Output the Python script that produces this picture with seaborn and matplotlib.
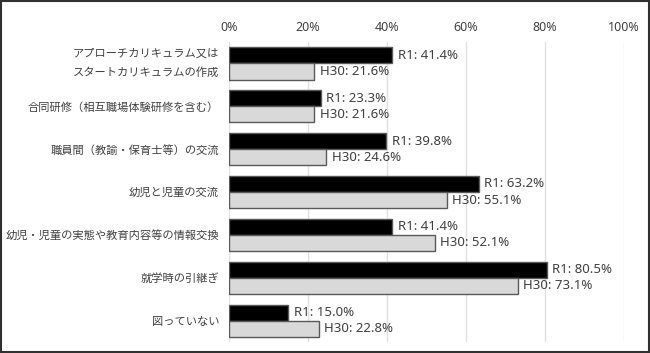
import pandas as pd
import numpy as np
import matplotlib.pyplot as plt
import matplotlib.transforms as mtrans
import seaborn as sns
from matplotlib.ticker import PercentFormatter

categories = ['アプローチカリキュラム又は\nスタートカリキュラムの作成',
              '合同研修（相互職場体験研修を含む）',
              '職員間（教諭・保育士等）の交流',
              '幼児と児童の交流',
              '幼児・児童の実態や教育内容等の情報交換',
              '就学時の引継ぎ',
              '図っていない']
r1 = [41.4, 23.3, 39.8, 63.2, 41.4, 80.5, 15.0]
h30 = [21.6, 21.6, 24.6, 55.1, 52.1, 73.1, 22.8]
series = ['R1', 'H30']

df = pd.DataFrame({'cat': categories * 2,
                   'val': r1 + h30,
                   'year': ['R1'] * len(r1) + ['H30'] * len(h30)})

sns.set_style('white')
plt.rcParams['font.family'] = ['Noto Sans CJK JP', 'DejaVu Sans']

fig = plt.figure(figsize=(6.5, 3.53), dpi=100)
ax = fig.add_axes([0.352, 0.031, 0.608, 0.85])

sns.barplot(data=df, y='cat', x='val', hue='year', hue_order=series,
            palette={'R1': '#000000', 'H30': '#d9d9d9'}, orient='h',
            width=0.75, edgecolor='#595959', linewidth=1, legend=False, ax=ax)

for cont, s in zip(ax.containers, series):
    vals = r1 if s == 'R1' else h30
    ax.bar_label(cont, labels=[f'{s}: {v:.1f}%' for v in vals], padding=4,
                 fontsize=9.5, color='#404040', family='Noto Sans')

ax.set_xlim(0, 100)
ax.set_xticks(np.arange(0, 101, 20))
ax.xaxis.set_major_formatter(PercentFormatter(decimals=0))
ax.xaxis.tick_top()
ax.tick_params(axis='x', length=0, labelsize=9, labelcolor='#404040', pad=6)
ax.tick_params(axis='y', length=0, labelsize=8.1, labelcolor='#404040', pad=7)
for t in ax.get_xticklabels():
    t.set_family('Noto Sans')
ylabs = ax.get_yticklabels()
for t in ylabs:
    t.set_linespacing(2.0)
# nudge the two-line label up a little
ylabs[0].set_transform(ylabs[0].get_transform() +
                       mtrans.ScaledTranslation(0, 4 / 72, fig.dpi_scale_trans))
ax.grid(axis='x', color='#e0e0e0', linewidth=1)
ax.set_axisbelow(True)
ax.set_xlabel('')
ax.set_ylabel('')
for sp in ax.spines.values():
    sp.set_visible(False)

fig.patches.append(plt.Rectangle((0.002, 0.003), 0.996, 0.994, transform=fig.transFigure,
                                 fill=False, edgecolor='#303030', linewidth=1.5))

fig.savefig('out.png', dpi=100)
